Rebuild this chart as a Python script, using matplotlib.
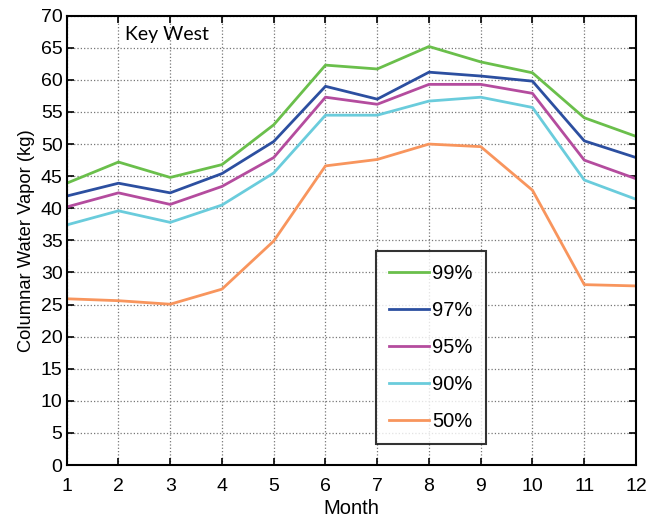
import matplotlib
matplotlib.use('Agg')
import matplotlib.pyplot as plt

# Monthly columnar water vapor percentiles, Key West
months = list(range(1, 13))
p99 = [43.9, 47.2, 44.8, 46.8, 53.0, 62.3, 61.7, 65.2, 62.8, 61.1, 54.1, 51.2]
p97 = [41.9, 43.9, 42.4, 45.4, 50.4, 59.0, 57.0, 61.2, 60.6, 59.8, 50.5, 47.9]
p95 = [40.2, 42.4, 40.6, 43.4, 47.9, 57.3, 56.2, 59.3, 59.3, 57.9, 47.5, 44.6]
p90 = [37.4, 39.6, 37.8, 40.5, 45.5, 54.5, 54.5, 56.7, 57.3, 55.7, 44.4, 41.4]
p50 = [25.9, 25.6, 25.05, 27.4, 34.9, 46.6, 47.6, 50.0, 49.6, 42.8, 28.1, 27.9]

series = [('99%', p99, '#6abf4b'),
          ('97%', p97, '#2c4fa0'),
          ('95%', p95, '#b44c9e'),
          ('90%', p90, '#6accdc'),
          ('50%', p50, '#f8955d')]

plt.rcParams['font.family'] = ['Liberation Sans', 'DejaVu Sans']

fig = plt.figure(figsize=(6.65, 5.18), dpi=100)
ax = fig.add_axes([0.1003, 0.1023, 0.8561, 0.8674])

for label, vals, color in series:
    ax.plot(months, vals, color=color, lw=2, label=label)

ax.set_xlim(1, 12)
ax.set_ylim(0, 70)
ax.set_xticks(months)
ax.set_yticks(range(0, 71, 5))
ax.tick_params(direction='in', top=True, right=True, length=5, width=1.2,
               labelsize=14)
ax.tick_params(axis='x', pad=9)
ax.tick_params(axis='y', pad=3)
ax.grid(True, linestyle=':', color='#777777', lw=0.9)
for sp in ax.spines.values():
    sp.set_linewidth(1.5)

ax.set_xlabel('Month', fontsize=14.5, labelpad=3)
ax.set_ylabel('Columnar Water Vapor (kg)', fontsize=13.2, labelpad=4)

ax.text(0.102, 0.958, 'Key West', transform=ax.transAxes, fontsize=14,
        family=['Lato', 'DejaVu Sans'], va='center', ha='left')

leg = ax.legend(loc='upper left', bbox_to_anchor=(0.543, 0.476), fontsize=14.5,
                frameon=True, fancybox=False, edgecolor='black',
                handlelength=2.0, handletextpad=0.15, labelspacing=0.89,
                borderpad=0.65, borderaxespad=0)
leg.get_frame().set_linewidth(1.5)

fig.savefig('out.png', dpi=100)
